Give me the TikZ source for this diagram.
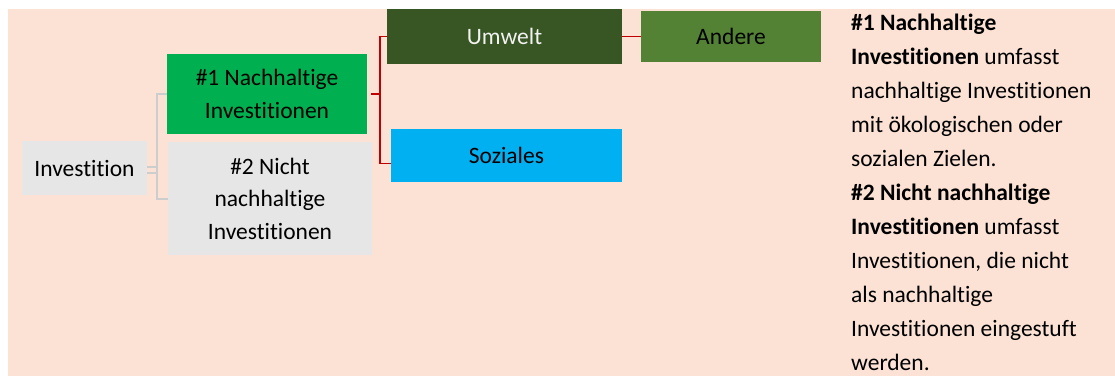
\documentclass[tikz,border=0pt]{standalone}
\usepackage{fontspec}
\setmainfont{Carlito}[Ligatures={NoCommon},RawFeature={-liga}]
\definecolor{bgpeach}{HTML}{FBE2D5}
\definecolor{boxgray}{HTML}{E6E6E6}
\definecolor{brightgreen}{HTML}{00B050}
\definecolor{darkgreen}{HTML}{375623}
\definecolor{midgreen}{HTML}{548235}
\definecolor{skyblue}{HTML}{00B0F0}
\definecolor{linered}{HTML}{C00000}
\definecolor{linegray}{HTML}{CDCDCD}
\begin{document}
\begin{tikzpicture}[x=1pt,y=-1pt,
  box/.style={anchor=north west,inner sep=0pt,outer sep=0pt,align=center,
    font=\fontsize{23.5}{32.5}\selectfont,text=black},
  grayline/.style={draw=linegray,line width=1.2pt},
  redline/.style={draw=linered,line width=1.2pt}]
\useasboundingbox (0,0) rectangle (1115,376);
\fill[bgpeach] (8,9) rectangle (1115,376);
\node[box,fill=boxgray,minimum width=125pt,minimum height=54pt] (inv) at (22,141) {Investition};
\node[box,fill=brightgreen,minimum width=200pt,minimum height=80pt] (n1) at (167,54) {\#1 Nachhaltige\\Investitionen};
\node[box,fill=boxgray,minimum width=204pt,minimum height=113pt] (n2) at (168,142) {\#2 Nicht\\nachhaltige\\Investitionen};
\node[box,fill=darkgreen,minimum width=235pt,minimum height=55pt,text=white!95!black] (umw) at (387,9) {Umwelt};
\node[box,fill=skyblue,minimum width=231pt,minimum height=53pt] (soz) at (391,129) {Soziales};
\node[box,fill=midgreen,minimum width=180pt,minimum height=51pt] (and) at (641,11) {Andere};
\node[anchor=north west,inner sep=0pt,align=left,font=\fontsize{23.5}{34}\selectfont] (txt) at (851,14)
 {\textbf{\#1 Nachhaltige}\\\textbf{Investitionen} umfasst\\nachhaltige Investitionen\\mit ökologischen oder\\sozialen Zielen.\\\textbf{\#2 Nicht nachhaltige}\\\textbf{Investitionen} umfasst\\Investitionen, die nicht\\als nachhaltige\\Investitionen eingestuft\\werden.};
% gray connectors
\draw[grayline] ([yshift=-5pt]inv.east) -- ++(10,0) |- (n1.west);
\draw[grayline] ([yshift=1pt]inv.east) -- ++(10,0) |- ([yshift=-0.5pt]n2.west);
% red connectors
\coordinate (rj) at ([xshift=4pt]n1.east);
\draw[redline] (rj) -- ++(9,0) coordinate (rv) |- (umw.west);
\draw[redline] (rv) |- ([yshift=-8pt]soz.west);
\draw[redline] (umw.east) -- (umw.east -| and.west);
\end{tikzpicture}
\end{document}
